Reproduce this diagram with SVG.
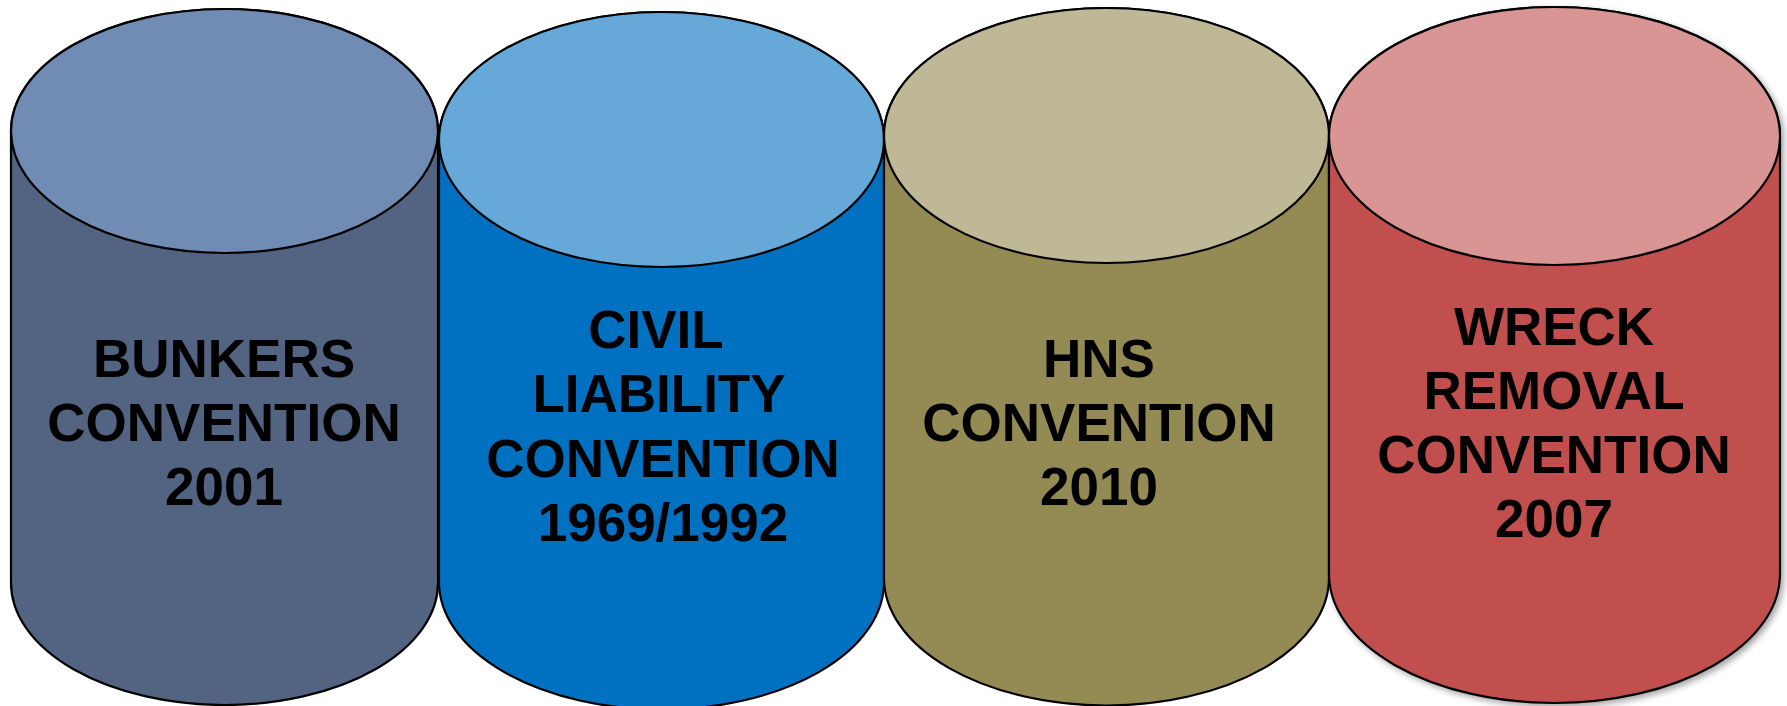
<svg xmlns="http://www.w3.org/2000/svg" width="1787" height="706" viewBox="0 0 1787 706">
<defs>
<style>
.side{stroke:#000;stroke-width:2.2;}
.top{stroke:#000;stroke-width:2.2;}
.lbl{font-family:"Liberation Sans",Arial,sans-serif;font-weight:bold;font-size:53px;fill:#000;text-anchor:middle;}
</style>
<filter id="sh" x="-10%" y="-10%" width="130%" height="130%">
<feDropShadow dx="3" dy="3" stdDeviation="3" flood-color="#000" flood-opacity="0.35"/>
</filter>
</defs>
<rect width="1787" height="706" fill="#fff"/>
<g id="bunkers">
<path class="side" fill="#536482" d="M11,131 V583 A213.5,122 0 0 0 438,583 V131 A213.5,122 0 0 0 11,131 Z"/>
<ellipse class="top" fill="#718cb4" cx="224.5" cy="131" rx="213.5" ry="122"/>
<text class="lbl" x="224" y="377">BUNKERS</text>
<text class="lbl" x="224" y="441">CONVENTION</text>
<text class="lbl" x="224" y="505">2001</text>
</g>
<g id="civil">
<path class="side" fill="#0070c0" d="M439,139.5 V582 A222.5,127.5 0 0 0 884,582 V139.5 A222.5,127.5 0 0 0 439,139.5 Z"/>
<ellipse class="top" fill="#66a8d8" cx="661.5" cy="139.5" rx="222.5" ry="127.5"/>
<text class="lbl" x="656" y="348">CIVIL</text>
<text class="lbl" x="659" y="412">LIABILITY</text>
<text class="lbl" x="663" y="477">CONVENTION</text>
<text class="lbl" x="663" y="541">1969/1992</text>
</g>
<g id="hns">
<path class="side" fill="#948a54" d="M884,135.5 V578 A222.5,127.5 0 0 0 1329,578 V135.5 A222.5,127.5 0 0 0 884,135.5 Z"/>
<ellipse class="top" fill="#beb896" cx="1106.5" cy="135.5" rx="222.5" ry="127.5"/>
<text class="lbl" x="1099" y="377">HNS</text>
<text class="lbl" x="1099" y="441">CONVENTION</text>
<text class="lbl" x="1099" y="505">2010</text>
</g>
<g id="wreck" filter="url(#sh)">
<path class="side" fill="#c0504d" d="M1329,136 V574 A225.5,129 0 0 0 1780,574 V136 A225.5,129 0 0 0 1329,136 Z"/>
<ellipse class="top" fill="#d99594" cx="1554.5" cy="136" rx="225.5" ry="129"/>
<text class="lbl" x="1554" y="345">WRECK</text>
<text class="lbl" x="1554" y="409">REMOVAL</text>
<text class="lbl" x="1554" y="473">CONVENTION</text>
<text class="lbl" x="1554" y="537">2007</text>
</g>
<g id="connectors"/>
</svg>
